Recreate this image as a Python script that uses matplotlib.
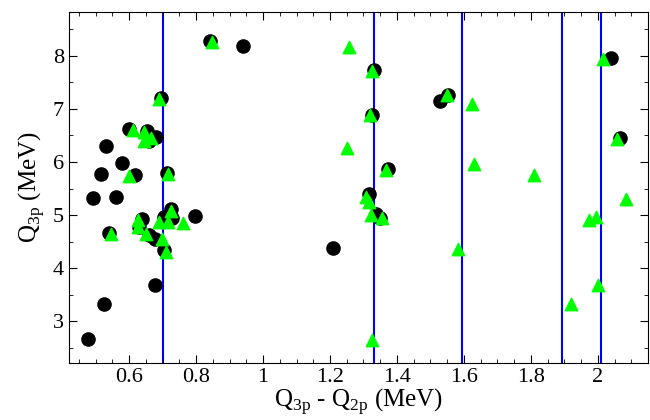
import matplotlib.pyplot as plt
from matplotlib.ticker import MultipleLocator

plt.rcParams['font.family'] = ['Liberation Serif', 'DejaVu Serif']
plt.rcParams['mathtext.fontset'] = 'custom'
plt.rcParams['mathtext.rm'] = 'Liberation Serif'

# black circles
circ_x = [0.84, 0.94, 0.695, 0.60, 0.653, 0.68, 0.66, 0.532, 0.58, 0.515, 0.618, 0.712,
          0.492, 0.56, 0.725, 0.638, 0.728, 0.705, 0.797, 0.54, 0.628, 0.66, 0.678, 0.705,
          0.678, 0.525, 0.477,
          1.33, 1.325, 1.373, 1.317, 1.338, 1.35, 1.21,
          1.529, 1.552, 2.038, 2.067]
circ_y = [8.28, 8.18, 7.21, 6.63, 6.58, 6.47, 6.40, 6.30, 5.98, 5.77, 5.75, 5.80,
          5.32, 5.35, 5.12, 4.93, 4.94, 4.97, 4.99, 4.67, 4.78, 4.63, 4.56, 4.35,
          3.69, 3.32, 2.67,
          7.74, 6.89, 5.86, 5.40, 5.02, 4.94, 4.38,
          7.15, 7.27, 7.96, 6.46]

# green triangles
tri_x = [0.848, 0.69, 0.61, 0.645, 0.645, 0.665, 0.60, 0.715, 0.545, 0.625, 0.625, 0.65,
         0.688, 0.725, 0.715, 0.698, 0.71, 0.762,
         1.258, 1.325, 1.32, 1.25, 1.367, 1.307, 1.315, 1.322, 1.355, 1.325,
         1.549, 1.625, 1.631, 1.81, 1.581, 2.016, 2.057, 2.085, 1.973, 1.996, 2.001, 1.919]
tri_y = [8.26, 7.18, 6.60, 6.57, 6.39, 6.45, 5.74, 5.78, 4.64, 4.91, 4.78, 4.64,
         4.88, 5.08, 4.88, 4.56, 4.31, 4.86,
         8.16, 7.71, 6.88, 6.27, 5.85, 5.35, 5.25, 5.00, 4.94, 2.66,
         7.26, 7.10, 5.97, 5.75, 4.36, 7.94, 6.44, 5.30, 4.91, 4.96, 3.68, 3.33]

vlines = [0.70, 1.332, 1.595, 1.893, 2.01]

fig = plt.figure(figsize=(6.5, 4.2), dpi=100)
ax = fig.add_axes([0.106, 0.136, 0.891, 0.835])

for v in vlines:
    ax.axvline(v, color='#0000ff', lw=1.5, zorder=1)
ax.scatter(circ_x, circ_y, s=90, c='black', marker='o', zorder=2)
ax.scatter(tri_x, tri_y, s=80, c='#00ff00', marker='^', zorder=3)

ax.set_xlim(0.42, 2.15)
ax.set_ylim(2.22, 8.82)
ax.xaxis.set_major_locator(MultipleLocator(0.2))
ax.xaxis.set_minor_locator(MultipleLocator(0.05))
ax.yaxis.set_major_locator(MultipleLocator(1))
ax.yaxis.set_minor_locator(MultipleLocator(0.5))
ax.set_xticks([0.6, 0.8, 1.0, 1.2, 1.4, 1.6, 1.8, 2.0])
ax.set_xticklabels(['0.6', '0.8', '1', '1.2', '1.4', '1.6', '1.8', '2'])
ax.tick_params(which='both', direction='in', top=True, right=True, labelsize=16)
ax.tick_params(which='major', length=6)
ax.tick_params(which='minor', length=3)

ax.set_xlabel(r'Q$_{\rm 3p}$ - Q$_{\rm 2p}$ (MeV)', fontsize=18, labelpad=0)
ax.set_ylabel(r'Q$_{\rm 3p}$ (MeV)', fontsize=18, labelpad=4)

fig.savefig('out.png')
